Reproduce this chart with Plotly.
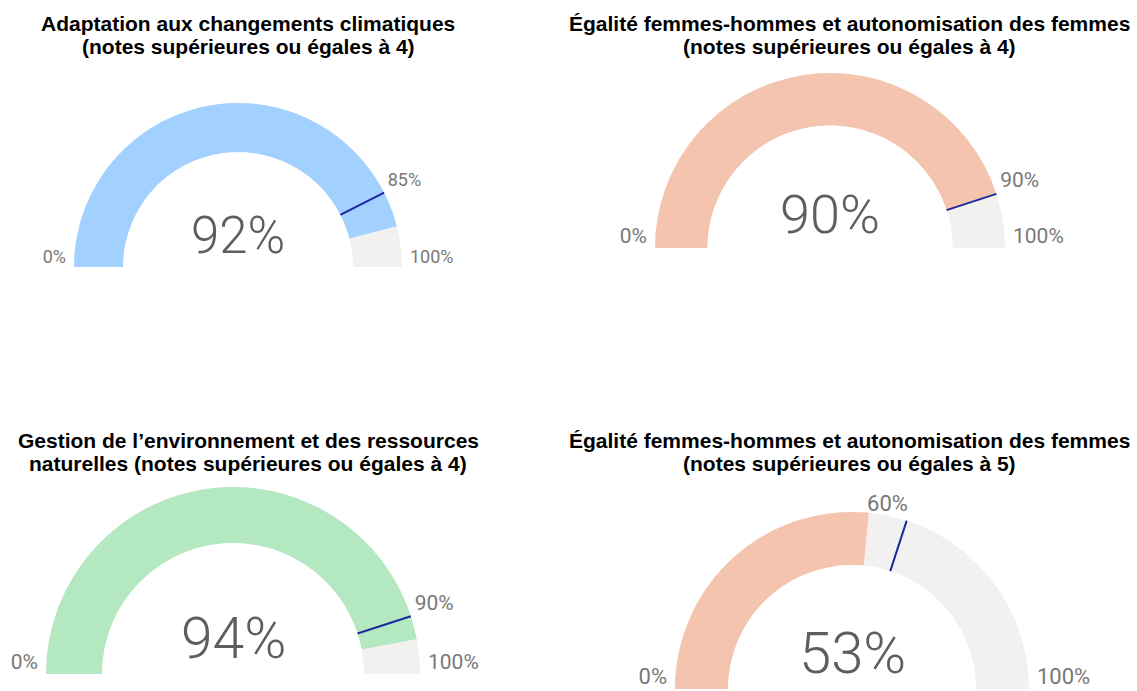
import plotly.graph_objects as go

# ---- data ----
titles_line1 = [
    "Adaptation aux changements climatiques",
    "Égalité femmes-hommes et autonomisation des femmes",
    "Gestion de l’environnement et des ressources",
    "Égalité femmes-hommes et autonomisation des femmes",
]
titles_line2 = [
    "(notes supérieures ou égales à 4)",
    "(notes supérieures ou égales à 4)",
    "naturelles (notes supérieures ou égales à 4)",
    "(notes supérieures ou égales à 5)",
]
values = [92, 90, 94, 53]
targets = [85, 90, 90, 60]
gauge_min = [0, 0, 0, 0]
gauge_max = [100, 100, 100, 100]

# ---- styles / layout ----
W, H = 1137, 691
fill_colors = ["#A3D1FF", "#F4C4AF", "#B3E8C1", "#F4C4AF"]
track_color = "#F2F1F0"
target_color = "#1A2A9E"
label_color = "#7A7876"
number_color = "#605E5C"
# gauge centre x, base y, outer radius (pixels)
geom = [(238, 267, 164), (830, 248, 175), (233, 674, 187), (852, 689, 177)]
hole_ratio = 0.70           # inner / outer radius of the ring
label_room_px = 14          # extra radial room kept around the ring for labels
label_sizes = [18, 21, 21, 22]
number_sizes = [51, 54, 57, 58]
target_label_pos = ["top right", "top right", "top right", "top left"]
end_label_gap_px = 8
target_label_gap_px = 4
title_x = [248, 849, 248, 849]
title_y1 = [24, 24, 440, 440]
title_y2 = [47, 47, 463, 463]


def to_deg(v, lo, hi):
    return (v - lo) / (hi - lo) * 180.0


fig = go.Figure()
annotations = []
layout_polars = {}

for i in range(4):
    pname = "polar" if i == 0 else f"polar{i + 1}"
    lo, hi = gauge_min[i], gauge_max[i]
    full = to_deg(hi, lo, hi)
    vdeg = to_deg(values[i], lo, hi)
    tdeg = to_deg(targets[i], lo, hi)
    cx, cy, R = geom[i]
    r_in = hole_ratio * R
    r_dom = R + label_room_px
    ring = R - r_in                      # ring thickness in radial units (px)
    r_end = ring + end_label_gap_px
    r_tgt = ring + target_label_gap_px

    # track
    fig.add_trace(go.Barpolar(
        r=[ring], theta=[full / 2], width=[full], base=0,
        marker=dict(color=track_color, line=dict(width=0)),
        subplot=pname, showlegend=False, hoverinfo="skip"))
    # value
    fig.add_trace(go.Barpolar(
        r=[ring], theta=[vdeg / 2], width=[vdeg], base=0,
        marker=dict(color=fill_colors[i], line=dict(width=0)),
        subplot=pname, showlegend=False, hoverinfo="skip"))
    # target line
    fig.add_trace(go.Scatterpolar(
        r=[0, ring], theta=[tdeg, tdeg], mode="lines",
        line=dict(color=target_color, width=2),
        subplot=pname, showlegend=False, hoverinfo="skip"))
    # labels
    fig.add_trace(go.Scatterpolar(
        r=[r_end, r_tgt, r_end],
        theta=[to_deg(lo, lo, hi), tdeg, full],
        mode="text",
        text=[f"{lo}%", f"{targets[i]}%", f"{hi}%"],
        textposition=["top left", target_label_pos[i], "top right"],
        textfont=dict(family="Roboto, Open Sans, sans-serif", size=label_sizes[i], color=label_color),
        cliponaxis=False,
        subplot=pname, showlegend=False, hoverinfo="skip"))

    layout_polars[pname] = dict(
        domain=dict(x=[(cx - r_dom) / W, (cx + r_dom) / W],
                    y=[1 - cy / H, 1 - (cy - r_dom) / H]),
        sector=[0, 180],
        hole=r_in / r_dom,
        bgcolor="rgba(0,0,0,0)",
        radialaxis=dict(visible=False, range=[0, r_dom - r_in]),
        angularaxis=dict(visible=False, rotation=180, direction="clockwise"),
    )

    # central number
    annotations.append(dict(
        x=cx / W, y=1 - cy / H, xref="paper", yref="paper",
        xanchor="center", yanchor="bottom", showarrow=False,
        text=f"{values[i]}%",
        font=dict(family="Roboto, sans-serif", size=number_sizes[i], color=number_color, weight=300)))
    # titles
    for txt, ty in ((titles_line1[i], title_y1[i]), (titles_line2[i], title_y2[i])):
        annotations.append(dict(
            x=title_x[i] / W, y=1 - ty / H, xref="paper", yref="paper",
            xanchor="center", yanchor="middle", showarrow=False,
            text=f"<b>{txt}</b>",
            font=dict(family="Arial, Liberation Sans, sans-serif", size=21, color="#000000")))

fig.update_layout(
    width=W, height=H,
    margin=dict(l=0, r=0, t=0, b=0),
    paper_bgcolor="white", plot_bgcolor="white",
    template="none",
    annotations=annotations,
    **layout_polars,
)

fig.write_html(
    "out.html",
    config={"displayModeBar": False},
    post_script="document.body.style.margin='0';document.body.style.overflow='hidden';",
)
